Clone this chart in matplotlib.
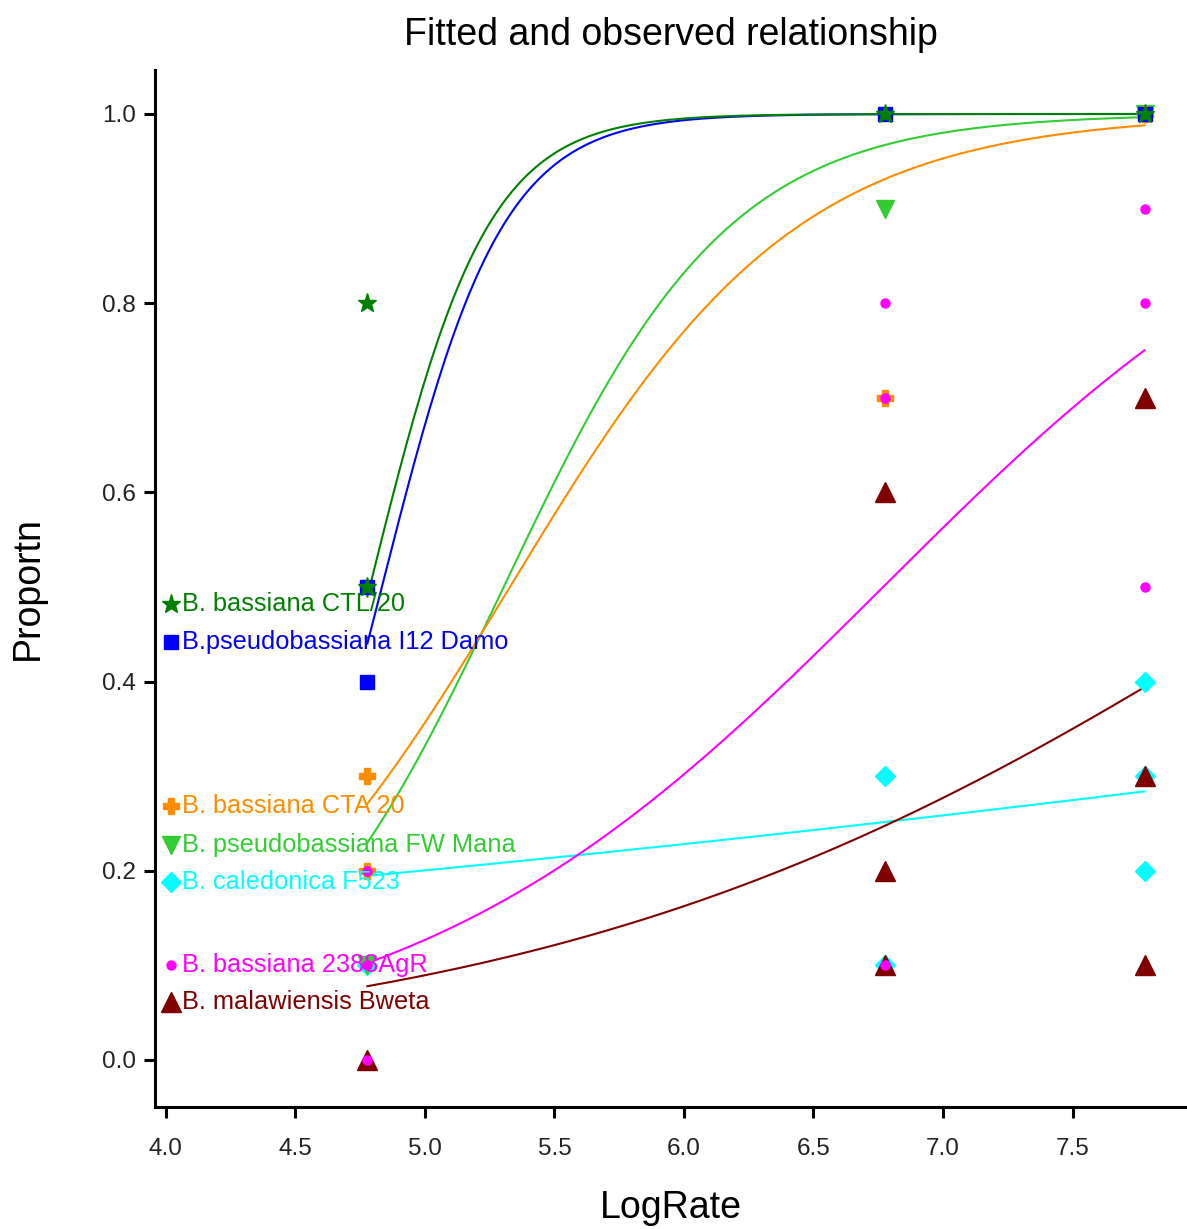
import matplotlib
matplotlib.use("Agg")

import numpy as np
import matplotlib.pyplot as plt

plt.rcParams["font.family"] = ["Liberation Sans", "DejaVu Sans"]

# ==============================
# DATA
# ==============================
names = [
    "B. caledonica F523",
    "B. pseudobassiana FW Mana",
    "B. bassiana CTA 20",
    "B.pseudobassiana I12 Damo",
    "B. bassiana CTL/20",
    "B. malawiensis Bweta",
    "B. bassiana 2388AgR",
]
colors = ["#00FFFF", "#32CD32", "#FF8C00", "#0000FF", "#008000", "#800000", "#FF00FF"]
markers = ["D", "v", "P", "s", "*", "^", "o"]
marker_sizes = [10.5, 13, 11, 10, 14, 14, 6.5]

# observed proportions
obs_x = [
    [4.778, 6.778, 6.778, 7.778, 7.778, 7.778],
    [4.778, 6.778, 7.778],
    [4.778, 4.778, 6.778, 7.778],
    [4.778, 4.778, 6.778, 7.778],
    [4.778, 4.778, 6.778, 7.778],
    [4.778, 6.778, 6.778, 6.778, 7.778, 7.778, 7.778],
    [4.778, 4.778, 4.778, 6.778, 6.778, 6.778, 7.778, 7.778, 7.778],
]
obs_y = [
    [0.1, 0.3, 0.1, 0.4, 0.3, 0.2],
    [0.1, 0.9, 1.0],
    [0.3, 0.2, 0.7, 1.0],
    [0.5, 0.4, 1.0, 1.0],
    [0.8, 0.5, 1.0, 1.0],
    [0.0, 0.6, 0.2, 0.1, 0.7, 0.3, 0.1],
    [0.2, 0.1, 0.0, 0.8, 0.7, 0.1, 0.9, 0.8, 0.5],
]

# fitted logistic: logit(p) = a + b * (LogRate - 4.778)
fit_a = [-1.42, -1.21, -0.99, -0.24, -0.04, -2.47, -2.17]
fit_b = [0.165, 2.3, 1.8, 4.3, 4.4, 0.68, 1.09]
fit_range = (4.778, 7.778)

# label positions (left of plot)
label_y = [0.188, 0.227, 0.268, 0.442, 0.482, 0.061, 0.100]

# ==============================
# PLOT
# ==============================
fig = plt.figure(figsize=(11.87, 12.29), dpi=100)
ax = fig.add_axes([155 / 1187, 1 - 1107 / 1229, 1 - 155 / 1187, (1107 - 70) / 1229])

xs = np.linspace(fit_range[0], fit_range[1], 200)
for a, b, c in zip(fit_a, fit_b, colors):
    p = 1 / (1 + np.exp(-(a + b * (xs - fit_range[0]))))
    ax.plot(xs, p, color=c, lw=1.5, zorder=2)

for i, (x, y, c, m, ms) in enumerate(zip(obs_x, obs_y, colors, markers, marker_sizes)):
    ax.plot(x, y, ls="none", marker=m, ms=ms, color=c, mec=c, zorder=3 + i * 0.1)

for name, ly, c, m, ms in zip(names, label_y, colors, markers, marker_sizes):
    ax.plot(4.02, ly, ls="none", marker=m, ms=ms, color=c, mec=c, zorder=4)
    ax.text(4.064, ly, name, color=c, fontsize=18.3, va="center", ha="left", zorder=4)

ax.set_xlim(3.958, 7.942)
ax.set_ylim(-0.0497, 1.0465)
ax.set_xticks([4.0, 4.5, 5.0, 5.5, 6.0, 6.5, 7.0, 7.5])
ax.set_yticks([0.0, 0.2, 0.4, 0.6, 0.8, 1.0])
ax.xaxis.set_major_formatter(matplotlib.ticker.FormatStrFormatter("%.1f"))
ax.yaxis.set_major_formatter(matplotlib.ticker.FormatStrFormatter("%.1f"))

for side in ["top", "right"]:
    ax.spines[side].set_visible(False)
for side in ["left", "bottom"]:
    ax.spines[side].set_linewidth(2.2)

ax.tick_params(axis="both", length=8, width=2.2, labelsize=17.5, colors="black",
               labelcolor="#222222")
ax.tick_params(axis="x", pad=14)
ax.tick_params(axis="y", pad=6)

ax.set_title("Fitted and observed relationship", fontsize=27, pad=18)
ax.set_xlabel("LogRate", fontsize=27, labelpad=22)
ax.set_ylabel("Proportn", fontsize=27, labelpad=40)

fig.savefig("out.png", dpi=100)
plt.close(fig)
